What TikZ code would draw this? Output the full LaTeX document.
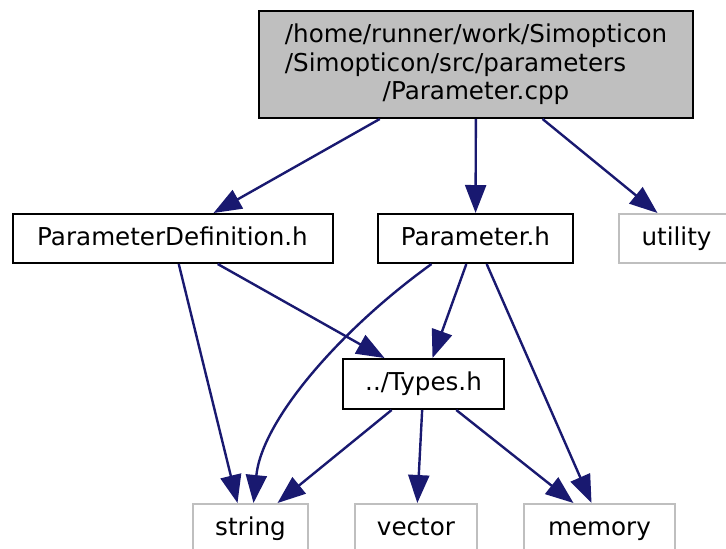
\documentclass[tikz,border=0pt]{standalone}
\usepackage{fontspec}
\usepackage{calc}
\setmainfont{DejaVu Sans}
\usetikzlibrary{arrows.meta}

\definecolor{edgeblue}{HTML}{191970}
\definecolor{lightgray}{HTML}{BFBFBF}

\begin{document}
\begin{tikzpicture}[
  x=0.5pt, y=-0.5pt,
  file/.style={draw=black, fill=white, line width=1pt, inner sep=0pt, minimum height=24.5pt, text height=9pt, text depth=2.5pt, font=\fontsize{12.3}{14.3}\selectfont},
  main/.style={file, fill=lightgray, align=center, minimum width=217pt, minimum height=53.5pt, text height=, text depth=},
  sys/.style={file, draw=lightgray},
  dep/.style={-{Triangle[length=14pt,width=10.5pt]}, draw=edgeblue, line width=1.2pt}
]
\useasboundingbox (0,0) rectangle (726,548);
\clip (0,0) rectangle (726,548);

\node[main] (top) at (476,64.5) {/home/runner/work/Simopticon\\\makebox[\widthof{/home/runner/work/Simopticon}][l]{/Simopticon/src/parameters}\\/Parameter.cpp};

\node[file, minimum width=160pt] (pdef) at (172.5,238.5) {ParameterDefinition.h};
\node[file, minimum width=97.5pt] (param) at (475.5,238.5) {Parameter.h};
\node[sys, minimum width=57.5pt] (util) at (676.5,238.5) {utility};
\node[file, minimum width=80.5pt, minimum height=25pt] (types) at (423.5,384) {../Types.h};

\node[sys, minimum width=57.5pt] (str) at (250.5,528.5) {string};
\node[sys, minimum width=61pt] (vec) at (416,528.5) {vector};
\node[sys, minimum width=75.5pt] (mem) at (599.5,528.5) {memory};

\draw[dep] (top) -- ([xshift=20.5pt]pdef.north);
\draw[dep] (top) -- (param);
\draw[dep] (top) -- ([xshift=-9.5pt]util.north);

\draw[dep] (pdef) -- ([xshift=-6.5pt]str.north);
\draw[dep] (pdef) -- ([xshift=-19.5pt]types.north);

\draw[dep] (param) -- ([xshift=4.5pt]types.north);
\draw[dep] (param) -- ([xshift=-4pt]mem.north);
\draw[dep] ([xshift=-22pt]param.south) .. controls (340,330) and (262,420) .. ([xshift=1.5pt]str.north);

\draw[dep] (types) -- ([xshift=13.5pt]str.north);
\draw[dep] (types) -- (vec);
\draw[dep] (types) -- ([xshift=-13pt]mem.north);

\end{tikzpicture}
\end{document}
